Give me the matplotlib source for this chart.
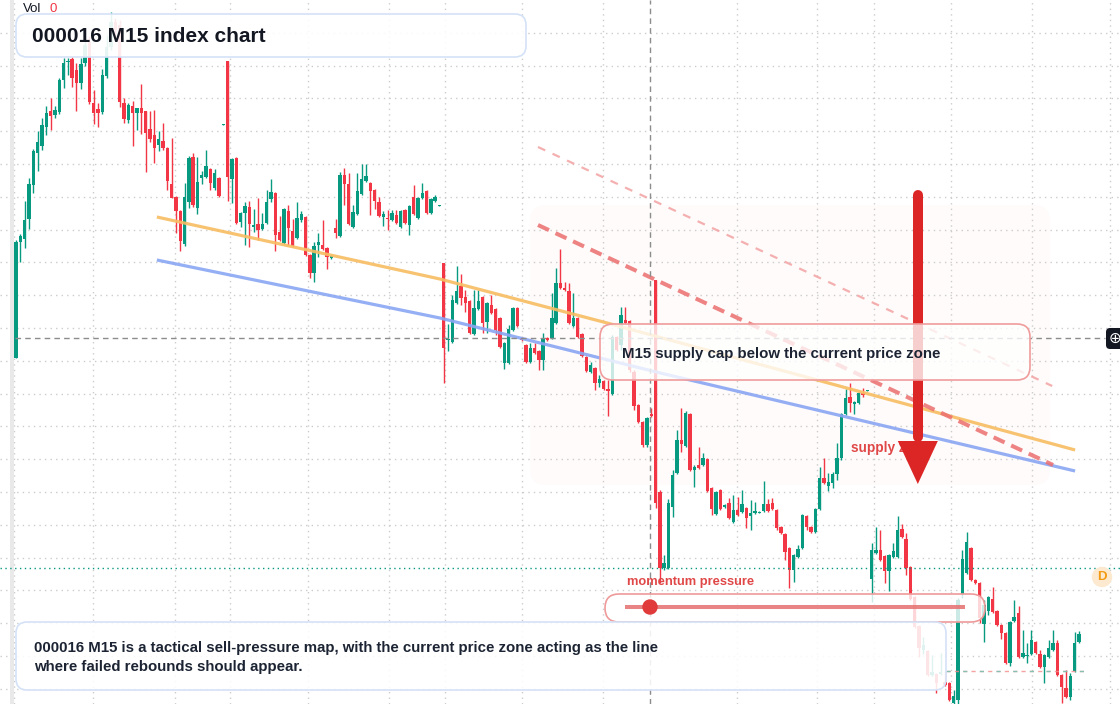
"""
000016 M15 index chart with supply-cap drawings (TradingView style screenshot remake).
"""

import matplotlib
matplotlib.use("Agg")
import matplotlib.pyplot as plt
import numpy as np
from matplotlib.colors import to_rgba
from matplotlib.lines import Line2D
from matplotlib.patches import Circle, FancyBboxPatch

# --- Embedded Data (M15 candles, index points) ---
OPEN = [
    642, 758, 761, 781, 815, 847, 854, 873, 889, 885,
    888, 920, 938, 941, 930, 917, 937, 958, 897, 891,
    888, 924, 953, 978, 975, 897, 880, 894, 887, 892,
    889, 871, 865, 855, 859, 852, 816, 803, 789, 756,
    798, 843, 792, 822, 823, 831, 812, 822, 875, 939,
    821, 842, 778, 787, 793, 773, 776, 771, 777, 801,
    807, 768, 757, 789, 769, 762, 780, 783, 745, 727,
    755, 755, 752, 742, 772, 764, 825, 816, 773, 786,
    806, 819, 817, 810, 798, 783, 782, 780, 785, 773,
    790, 775, 803, 782, 802, 809, 787, 799, 794, 737,
    660, 658, 697, 714, 703, 699, 666, 691, 703, 678,
    695, 691, 682, 637, 637, 670, 692, 662, 655, 638,
    652, 649, 640, 662, 662, 677, 717, 712, 709, 674,
    682, 666, 643, 628, 632, 617, 619, 611, 606, 663,
    655, 680, 679, 628, 595, 578, 555, 586, 720, 508,
    432, 432, 493, 527, 560, 554, 586, 530, 535, 535,
    541, 512, 486, 510, 493, 497, 478, 490, 488, 492,
    484, 487, 487, 489, 496, 497, 490, 473, 466, 452,
    430, 443, 452, 484, 473, 468, 491, 522, 514, 517,
    526, 542, 586, 603, 596, 597, 607, 609, 421, 447,
    450, 444, 429, 443, 443, 471, 461, 433, 403, 374,
    350, 349, 325, 326, 326, 318, 317, 297, 300, 405,
    427, 452, 420, 417, 376, 389, 401, 389, 375, 367,
    337, 379, 387, 343, 344, 346, 358, 346, 333, 343,
    350, 357, 325, 312, 303, 329, 358,
]
HIGH = [
    760, 766, 799, 822, 851, 869, 882, 894, 902, 894,
    922, 942, 942, 943, 937, 942, 962, 964, 910, 897,
    931, 965, 988, 982, 980, 902, 897, 899, 892, 916,
    889, 889, 890, 869, 877, 853, 862, 804, 790, 817,
    844, 847, 843, 829, 850, 832, 831, 823, 876, 939,
    842, 843, 788, 798, 799, 791, 802, 787, 810, 821,
    808, 784, 792, 795, 781, 798, 789, 784, 746, 758,
    767, 780, 753, 745, 781, 828, 832, 827, 795, 827,
    836, 836, 818, 811, 803, 789, 790, 790, 790, 790,
    791, 795, 815, 803, 817, 810, 802, 805, 795, 737,
    676, 705, 734, 726, 710, 700, 710, 710, 704, 698,
    705, 692, 683, 658, 675, 693, 693, 663, 656, 657,
    657, 650, 667, 663, 707, 732, 751, 718, 717, 707,
    683, 667, 644, 638, 633, 625, 620, 620, 665, 664,
    693, 693, 680, 630, 596, 579, 583, 592, 720, 510,
    445, 501, 530, 570, 592, 589, 587, 535, 553, 547,
    542, 513, 509, 511, 496, 502, 505, 503, 510, 493,
    500, 498, 489, 519, 501, 502, 491, 474, 467, 453,
    446, 455, 486, 485, 474, 492, 533, 542, 527, 528,
    557, 587, 611, 617, 599, 608, 612, 610, 457, 473,
    470, 445, 446, 457, 484, 476, 467, 434, 404, 375,
    363, 350, 345, 327, 347, 329, 318, 310, 402, 450,
    468, 453, 421, 418, 400, 404, 413, 390, 376, 368,
    379, 400, 394, 370, 357, 370, 359, 350, 346, 360,
    370, 360, 326, 330, 327, 368, 369,
]
LOW = [
    642, 738, 752, 771, 807, 829, 850, 865, 870, 882,
    886, 912, 925, 913, 889, 911, 934, 896, 876, 873,
    886, 922, 950, 960, 893, 877, 877, 854, 870, 866,
    828, 858, 837, 849, 850, 810, 802, 767, 749, 754,
    792, 793, 786, 816, 822, 810, 810, 803, 875, 799,
    797, 776, 773, 755, 753, 768, 760, 770, 776, 798,
    749, 759, 756, 755, 753, 761, 778, 744, 722, 718,
    743, 750, 731, 741, 762, 763, 795, 775, 772, 785,
    805, 818, 785, 791, 783, 774, 770, 779, 776, 772,
    776, 765, 785, 781, 801, 786, 786, 798, 794, 617,
    649, 657, 696, 695, 688, 666, 665, 690, 667, 667,
    686, 665, 652, 631, 636, 669, 673, 659, 637, 637,
    646, 630, 630, 659, 661, 676, 711, 709, 676, 673,
    662, 643, 628, 627, 610, 613, 610, 584, 605, 649,
    650, 676, 628, 590, 577, 553, 553, 583, 492, 417,
    430, 431, 483, 526, 548, 553, 529, 513, 531, 534,
    508, 485, 485, 490, 492, 481, 477, 484, 487, 472,
    470, 486, 487, 488, 488, 490, 470, 466, 440, 412,
    418, 442, 451, 470, 467, 467, 490, 516, 509, 512,
    520, 540, 585, 588, 586, 596, 603, 609, 398, 446,
    439, 417, 409, 442, 442, 462, 425, 400, 372, 343,
    346, 324, 324, 307, 325, 314, 299, 296, 296, 402,
    426, 419, 416, 377, 358, 385, 387, 374, 361, 336,
    334, 378, 342, 342, 337, 345, 346, 332, 317, 342,
    349, 324, 297, 302, 300, 328, 357,
]
CLOSE = [
    758, 764, 780, 816, 849, 858, 875, 887, 884, 890,
    920, 937, 939, 922, 917, 936, 955, 898, 887, 887,
    925, 953, 978, 970, 898, 881, 895, 887, 892, 887,
    867, 861, 852, 861, 852, 819, 802, 789, 759, 803,
    842, 795, 818, 825, 834, 817, 827, 804, 876, 823,
    841, 777, 787, 794, 776, 775, 770, 776, 798, 808,
    765, 760, 791, 772, 754, 782, 786, 745, 727, 754,
    758, 751, 743, 744, 767, 825, 816, 776, 788, 809,
    821, 824, 809, 799, 784, 786, 781, 787, 777, 789,
    777, 794, 786, 802, 807, 787, 801, 803, 795, 652,
    661, 700, 709, 702, 697, 667, 692, 699, 677, 697,
    687, 670, 653, 657, 671, 692, 674, 660, 638, 652,
    647, 640, 661, 660, 682, 717, 712, 710, 677, 682,
    663, 644, 629, 635, 617, 621, 611, 609, 663, 650,
    685, 677, 630, 594, 578, 555, 582, 584, 497, 432,
    437, 497, 525, 560, 556, 587, 530, 533, 532, 542,
    509, 491, 508, 491, 495, 482, 490, 485, 496, 482,
    487, 489, 488, 496, 489, 491, 472, 467, 448, 430,
    445, 451, 485, 473, 468, 491, 522, 517, 518, 526,
    542, 586, 602, 597, 598, 607, 605, 610, 450, 450,
    440, 429, 445, 449, 470, 463, 432, 401, 373, 352,
    355, 325, 328, 317, 328, 315, 300, 304, 400, 441,
    458, 420, 417, 382, 395, 403, 388, 375, 367, 337,
    378, 383, 343, 347, 345, 360, 347, 333, 345, 352,
    357, 325, 313, 303, 324, 357, 366,
]

# trend drawings, anchored as (bar index, price)
ORANGE_T = [32.6, 98.1, 136.8, 245.1]
ORANGE_P = [783, 721, 677, 550]
BLUE_T = [32.6, 98.1, 149.1, 245.1]
BLUE_P = [740, 682, 627, 529]
CAP_T = [120.8, 240.0]
CAP_P = [775, 535]
CAP2_T = [120.8, 239.8]
CAP2_P = [853, 614]

LAST_PRICE = 432
CROSS_T, CROSS_P = 146.7, 662
LEVEL_T = [215.2, 247.6]
LEVEL_P = 329
ARROW_T = 208.7
ARROW_TOP, ARROW_BASE, ARROW_TIP = 805, 559, 516
ZONE_LABEL_T, ZONE_LABEL_P = 193.2, 552

GRID_T = [-0.46, 17.8, 36.8, 49.5, 67.6, 86.3, 99.3, 117.1, 135.9,
          166.9, 185.4, 198.6, 216.4, 235.1, 253.2]

GREEN = "#089981"
RED = "#f23645"
W, H, DPI = 1120, 704, 100


def main():
    plt.rcParams.update({
        "font.family": ["Liberation Sans", "DejaVu Sans"],
        "figure.facecolor": "white",
    })
    fig = plt.figure(figsize=(W / DPI, H / DPI), dpi=DPI)
    ax = fig.add_axes([0, 0, 1, 1])
    ax.set_facecolor("white")
    ft = fig.dpi_scale_trans

    def pt(x, y):
        return x / DPI, (H - y) / DPI

    def rbox(x0, y0, x1, y1, r, fc, fa, ec, lw, z):
        bx, by = pt(x0, y1)
        p = FancyBboxPatch((bx, by), (x1 - x0) / DPI, (y1 - y0) / DPI,
                           boxstyle=f"round,pad=0,rounding_size={r / DPI}",
                           transform=ft, facecolor=to_rgba(fc, fa),
                           edgecolor=ec, linewidth=lw, zorder=z)
        ax.add_patch(p)

    o = np.array(OPEN, dtype=float)
    h = np.array(HIGH, dtype=float)
    lo = np.array(LOW, dtype=float)
    c = np.array(CLOSE, dtype=float)
    idx = np.arange(len(o))
    cols = np.where(c >= o, GREEN, RED)

    # supply zone shading (very faint, behind everything)
    rbox(530, 205, 1050, 485, 16, "#fefbfa", 1.0, "none", 0, 0.2)

    ax.vlines(idx, lo, h, colors=cols, linewidth=1.0, zorder=2)
    ax.bar(idx, np.maximum(np.abs(c - o), 1.2), bottom=np.minimum(o, c),
           width=0.78, color=cols, linewidth=0, zorder=2.1)

    # trend lines
    ax.plot(ORANGE_T, ORANGE_P, color="#f8bd62", lw=2.3, alpha=0.9,
            solid_capstyle="butt", zorder=3)
    ax.plot(BLUE_T, BLUE_P, color="#8aa6f3", lw=2.3, alpha=0.9,
            solid_capstyle="butt", zorder=3)
    ax.plot(CAP_T, CAP_P, color="#ec6e6e", lw=2.9, alpha=0.85,
            dashes=(3.0, 1.8), zorder=3.1)
    ax.plot(CAP2_T, CAP2_P, color="#f3a3a3", lw=1.6, alpha=0.85,
            dashes=(3.6, 3.6), zorder=3.1)

    # price lines / crosshair
    ax.axhline(LAST_PRICE, color=GREEN, lw=1, dashes=(1, 2.5), zorder=2.5)
    ax.plot(LEVEL_T, [LEVEL_P, LEVEL_P], color="#f28b8b", lw=1,
            dashes=(3, 3), alpha=0.8, zorder=2.5)
    ax.plot(LEVEL_T, [LEVEL_P, LEVEL_P], color="#6cc7b6", lw=1,
            dashes=(3, 9), alpha=0.8, zorder=2.6)
    ax.axvline(CROSS_T, color="#8c8c8c", lw=1, dashes=(4, 3), zorder=3.2)
    ax.plot([-0.23, 252.0], [CROSS_P, CROSS_P], color="#8c8c8c", lw=1,
            dashes=(4, 3), zorder=3.2)

    # supply zone label sits under the arrow head
    ax.text(ZONE_LABEL_T, ZONE_LABEL_P, "supply zone", color="#e04848",
            fontsize=9.8, fontweight="bold", va="center", ha="left", zorder=3.9)

    # big arrow
    ax.plot([ARROW_T, ARROW_T], [ARROW_TOP, ARROW_BASE + 4], color="#dc2626",
            lw=7.2, solid_capstyle="round", zorder=4)
    ax.fill([ARROW_T - 4.63, ARROW_T + 4.63, ARROW_T],
            [ARROW_BASE, ARROW_BASE, ARROW_TIP], color="#dc2626",
            linewidth=0, zorder=4)

    # boxes
    rbox(600, 324, 1030, 380, 13, "white", 0.78, "#f09c9c", 1.2, 5)
    ax.text(*pt(622, 354), "M15 supply cap below the current price zone",
            transform=ft, fontsize=10.8, fontweight="bold", color="#1c2433",
            va="center", ha="left", zorder=6)

    rbox(605, 594, 985, 622, 14, "white", 0.8, "#ef9a9a", 1.2, 5)
    ax.add_artist(Line2D([627 / DPI, 963 / DPI], [(H - 607) / DPI] * 2,
                         transform=ft, color="#e66f6f", lw=2.9, alpha=0.85,
                         zorder=6))
    ax.add_patch(Circle(pt(650, 607), 7 / DPI, transform=ft,
                        color="#e03a3a", zorder=6.5))
    ax.text(*pt(627, 582), "momentum pressure", transform=ft, fontsize=9.3,
            fontweight="bold", color="#e04747", va="center", ha="left",
            zorder=6)

    rbox(16, 622, 946, 690, 11, "white", 0.88, "#d4e2f8", 1.2, 5)
    ax.text(*pt(34, 648),
            "000016 M15 is a tactical sell-pressure map, with the current "
            "price zone acting as the line",
            transform=ft, fontsize=10.8, fontweight="bold", color="#1c2433",
            va="center", ha="left", zorder=6)
    ax.text(*pt(34, 667), "where failed rebounds should appear.",
            transform=ft, fontsize=10.8, fontweight="bold", color="#1c2433",
            va="center", ha="left", zorder=6)

    rbox(16, 14, 526, 57, 11, "white", 0.9, "#d4e2f8", 1.2, 5)
    ax.text(*pt(32, 36), "000016 M15 index chart", transform=ft,
            fontsize=15, fontweight="bold", color="#131722",
            va="center", ha="left", zorder=6)

    # chrome: volume legend, left strip, markers
    ax.text(*pt(23, 9), "Vol", transform=ft, fontsize=9.5, color="#131722",
            va="center", ha="left", zorder=6)
    ax.text(*pt(49, 9), "0", transform=ft, fontsize=9.5, color=RED,
            va="center", ha="left", zorder=6)
    rbox(10, -2, 14, 706, 0, "#e9e9e9", 1.0, "none", 0, 0.6)
    ax.add_patch(Circle(pt(1102, 577), 9.5 / DPI, transform=ft,
                        color="#fde9cf", zorder=6))
    ax.text(*pt(1102, 577), "D", transform=ft, fontsize=9.5, color="#f39a12",
            fontweight="bold", va="center", ha="center", zorder=6.5)
    rbox(1106, 328, 1126, 349, 4, "#131722", 1.0, "none", 0, 6)
    ax.text(*pt(1115, 338.5), "\u2295", transform=ft, fontsize=11,
            color="white", va="center", ha="center", zorder=6.5)

    # grid
    ax.set_xticks(GRID_T)
    ax.set_yticks(np.arange(311.2, 1000, 32.8))
    ax.grid(True, color="#cccccc", linewidth=1.0, dashes=(1, 3))
    ax.set_axisbelow(True)
    ax.tick_params(length=0, labelleft=False, labelbottom=False)
    for s in ax.spines.values():
        s.set_visible(False)

    step = (1079 - 16) / (len(o) - 1)
    ax.set_xlim(-16 / step, (W - 16) / step)
    ax.set_ylim(1000 - H, 1000)

    fig.savefig("out.png", dpi=DPI)
    plt.close(fig)


if __name__ == "__main__":
    main()
